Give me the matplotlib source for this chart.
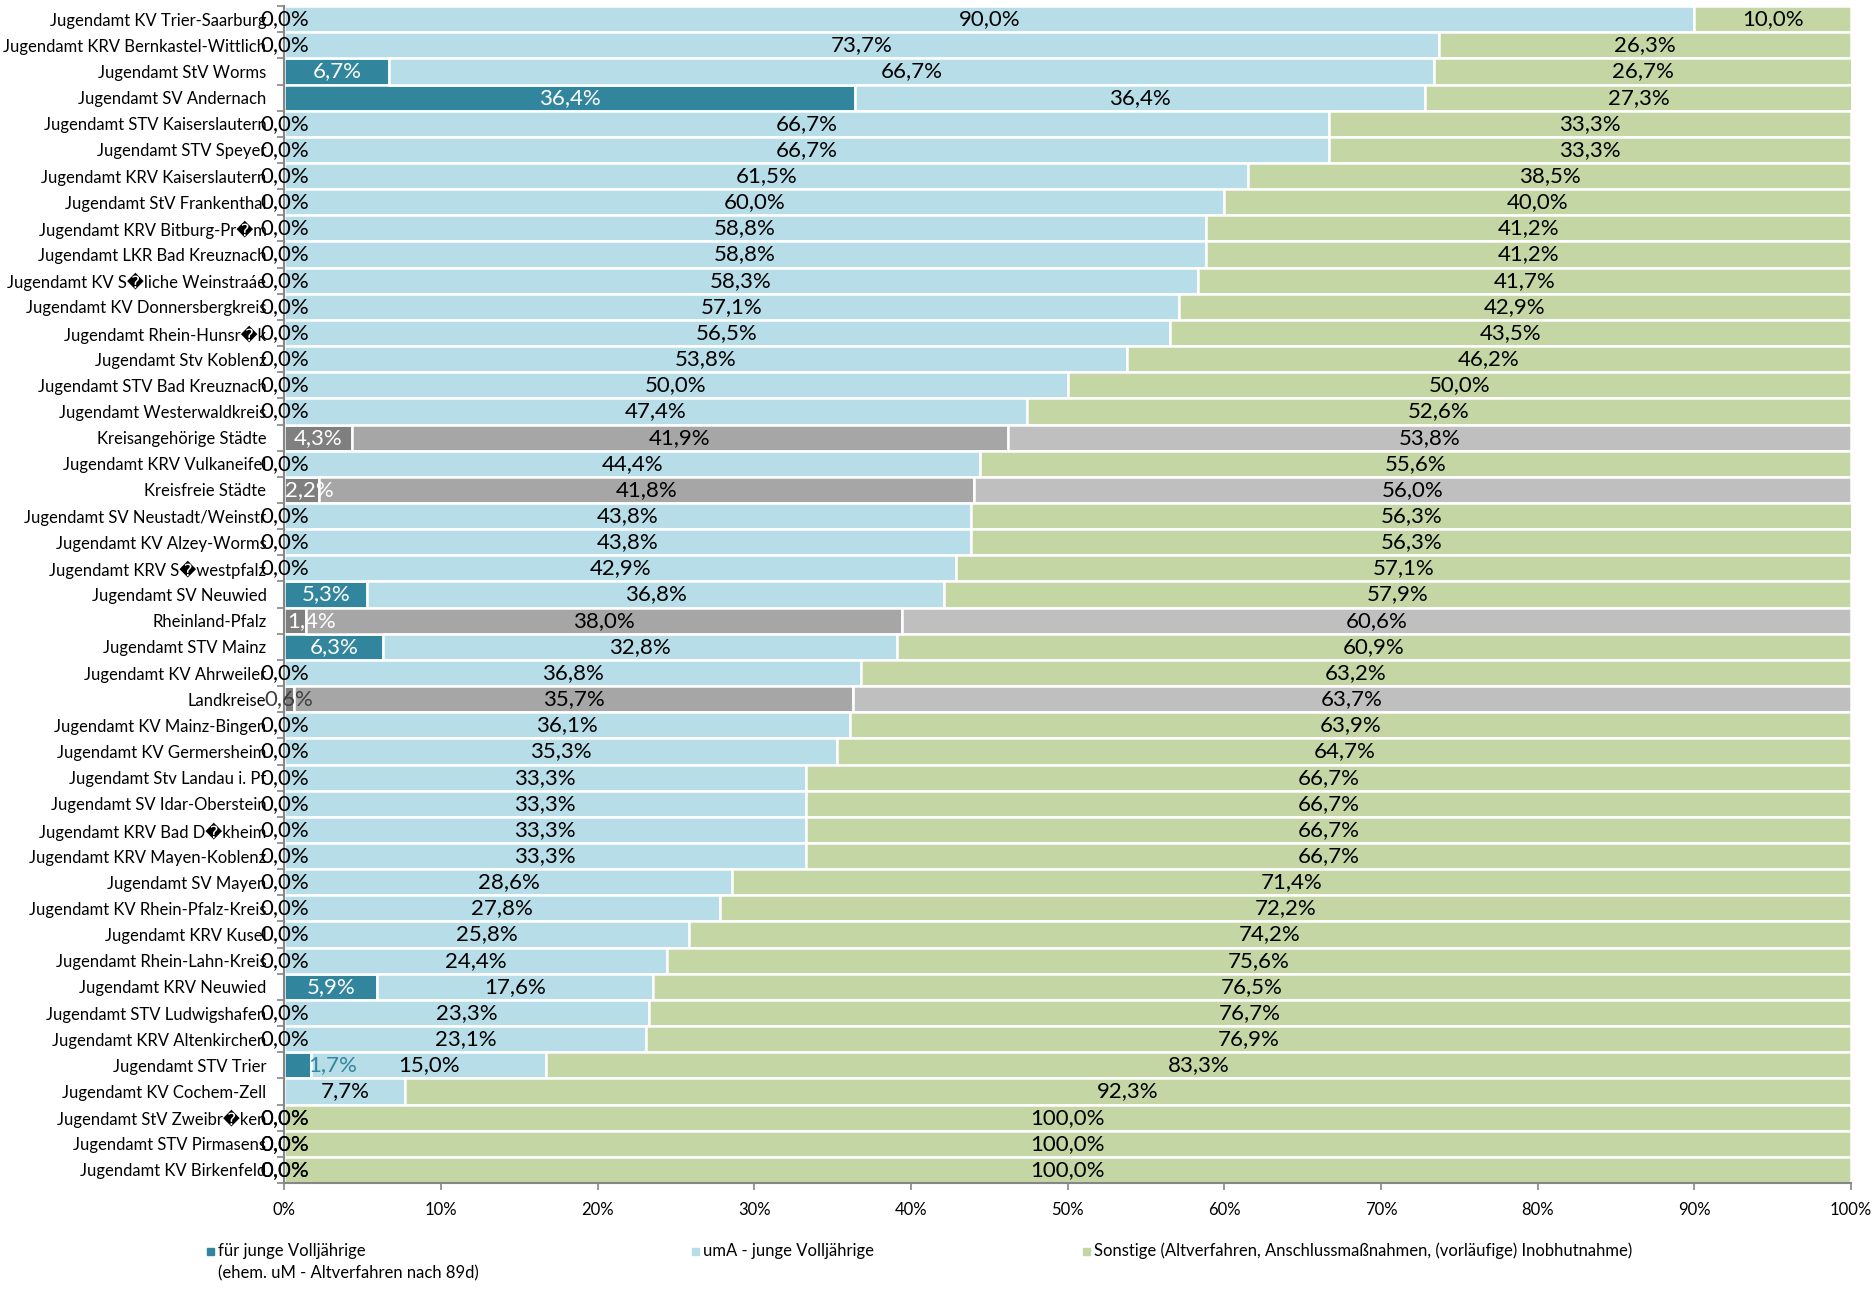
import numpy as np
import matplotlib
matplotlib.use('Agg')
import matplotlib.pyplot as plt
from matplotlib.patches import Rectangle

# Categories, top to bottom
names = [
    "Jugendamt KV Trier-Saarburg", "Jugendamt KRV Bernkastel-Wittlich", "Jugendamt StV Worms",
    "Jugendamt SV Andernach", "Jugendamt STV Kaiserslautern", "Jugendamt STV Speyer",
    "Jugendamt KRV Kaiserslautern", "Jugendamt StV Frankenthal", "Jugendamt KRV Bitburg-Pr\ufffdm",
    "Jugendamt LKR Bad Kreuznach", "Jugendamt KV S\ufffdliche Weinstra\u00e1e", "Jugendamt KV Donnersbergkreis",
    "Jugendamt Rhein-Hunsr\ufffdk", "Jugendamt Stv Koblenz", "Jugendamt STV Bad Kreuznach",
    "Jugendamt Westerwaldkreis", "Kreisangehörige Städte", "Jugendamt KRV Vulkaneifel",
    "Kreisfreie Städte", "Jugendamt SV Neustadt/Weinstr", "Jugendamt KV Alzey-Worms",
    "Jugendamt KRV S\ufffdwestpfalz", "Jugendamt SV Neuwied", "Rheinland-Pfalz",
    "Jugendamt STV Mainz", "Jugendamt KV Ahrweiler", "Landkreise",
    "Jugendamt KV Mainz-Bingen", "Jugendamt KV Germersheim", "Jugendamt Stv Landau i. Pf",
    "Jugendamt SV Idar-Oberstein", "Jugendamt KRV Bad D\ufffdkheim", "Jugendamt KRV Mayen-Koblenz",
    "Jugendamt SV Mayen", "Jugendamt KV Rhein-Pfalz-Kreis", "Jugendamt KRV Kusel",
    "Jugendamt Rhein-Lahn-Kreis", "Jugendamt KRV Neuwied", "Jugendamt STV Ludwigshafen",
    "Jugendamt KRV Altenkirchen", "Jugendamt STV Trier", "Jugendamt KV Cochem-Zell",
    "Jugendamt StV Zweibr\ufffdken", "Jugendamt STV Pirmasens", "Jugendamt KV Birkenfeld",
]

# für junge Volljährige (ehem. uM - Altverfahren nach 89d)
volljaehrige = [0, 0, 6.7, 36.4, 0, 0, 0, 0, 0, 0, 0, 0, 0, 0, 0, 0, 4.3, 0, 2.2, 0, 0, 0, 5.3, 1.4,
                6.3, 0, 0.6, 0, 0, 0, 0, 0, 0, 0, 0, 0, 0, 5.9, 0, 0, 1.7, np.nan, 0, 0, 0]
# umA - junge Volljährige
uma = [90.0, 73.7, 66.7, 36.4, 66.7, 66.7, 61.5, 60.0, 58.8, 58.8, 58.3, 57.1, 56.5, 53.8, 50.0,
       47.4, 41.9, 44.4, 41.8, 43.8, 43.8, 42.9, 36.8, 38.0, 32.8, 36.8, 35.7, 36.1, 35.3, 33.3,
       33.3, 33.3, 33.3, 28.6, 27.8, 25.8, 24.4, 17.6, 23.3, 23.1, 15.0, 7.7, 0, 0, 0]
# Sonstige
sonstige = [10.0, 26.3, 26.7, 27.3, 33.3, 33.3, 38.5, 40.0, 41.2, 41.2, 41.7, 42.9, 43.5, 46.2,
            50.0, 52.6, 53.8, 55.6, 56.0, 56.3, 56.3, 57.1, 57.9, 60.6, 60.9, 63.2, 63.7, 63.9,
            64.7, 66.7, 66.7, 66.7, 66.7, 71.4, 72.2, 74.2, 75.6, 76.5, 76.7, 76.9, 83.3, 92.3,
            100.0, 100.0, 100.0]

legend_labels = ["für junge Volljährige\n(ehem. uM - Altverfahren nach 89d)",
                 "umA - junge Volljährige",
                 "Sonstige (Altverfahren, Anschlussmaßnahmen, (vorläufige) Inobhutnahme)"]

aggregates = ["Kreisangehörige Städte", "Kreisfreie Städte", "Rheinland-Pfalz", "Landkreise"]

colors = ['#31859c', '#b7dde8', '#c4d6a4']
greys = ['#7f7f7f', '#a6a6a6', '#bfbfbf']

FONT = ['Lato', 'DejaVu Sans']
NARROW = ['Liberation Sans Narrow', 'Lato', 'DejaVu Sans']
plt.rcParams['font.family'] = FONT


def fmt(v):
    return f"{v:.1f}".replace('.', ',') + '%'


fig = plt.figure(figsize=(18.74, 12.89), dpi=100)
ax = fig.add_axes([0.1518, 0.0822, 0.9877 - 0.1518, 0.9953 - 0.0822])

n = len(names)
y = np.arange(n)
series = [np.nan_to_num(np.array(volljaehrige, dtype=float)), np.array(uma), np.array(sonstige)]
left = np.zeros(n)
for s, vals in enumerate(series):
    cols = [greys[s] if names[i] in aggregates else colors[s] for i in range(n)]
    ax.barh(y, vals, left=left, height=1.0, color=cols, edgecolor='white', linewidth=1.8)
    left = left + vals

# value labels (small first-segment labels were moved by hand in the original)
label_colour = {"Jugendamt STV Trier": '#31859c', "Landkreise": '#404040'}
label_pos = {"Rheinland-Pfalz": 1.7, "Kreisfreie Städte": 1.6, "Jugendamt STV Trier": 3.1}
for i in range(n):
    raw = [volljaehrige[i], uma[i], sonstige[i]]
    start = 0.0
    for s, v in enumerate(raw):
        if np.isnan(v):
            continue
        xc = start + v / 2
        if s == 0 and v > 0:
            c = label_colour.get(names[i], 'white')
            xc = label_pos.get(names[i], xc)
        else:
            c = 'black'
        ax.text(xc, i, fmt(v), ha='center', va='center', fontsize=16, color=c)
        start += v

ax.set_xlim(0, 100)
ax.set_ylim(n - 0.5, -0.5)
ax.set_yticks(y)
ax.set_yticklabels(names, fontsize=12)
ax.set_yticks(np.arange(n + 1) - 0.5, minor=True)
ax.tick_params(axis='y', which='major', length=0, pad=13)
ax.tick_params(axis='y', which='minor', length=5, direction='out', color='#868686', width=1.2)
ax.set_xticks(np.arange(0, 101, 10))
ax.set_xticklabels([f"{t}%" for t in range(0, 101, 10)], fontsize=12, family=NARROW)
ax.tick_params(axis='x', length=5, direction='out', color='#868686', width=1.2, pad=9)
for sp in ['top', 'right']:
    ax.spines[sp].set_visible(False)
for sp in ['left', 'bottom']:
    ax.spines[sp].set_color('#868686')
    ax.spines[sp].set_linewidth(1.5)

# legend placed like the original
leg_x = [207 / 1874, 692 / 1874, 1083 / 1874]
leg_y = 1 - 1251 / 1289
sq_w, sq_h = 7 / 1874, 7 / 1289
for k in range(3):
    fig.patches.append(Rectangle((leg_x[k], leg_y - sq_h / 2), sq_w, sq_h, color=colors[k],
                                 transform=fig.transFigure, figure=fig))
    lines = legend_labels[k].split('\n')
    for j, line in enumerate(lines):
        fig.text(leg_x[k] + 11 / 1874, leg_y - j * 22 / 1289, line, ha='left', va='center',
                 fontsize=12, family=NARROW)

plt.savefig('out.png', dpi=100)
